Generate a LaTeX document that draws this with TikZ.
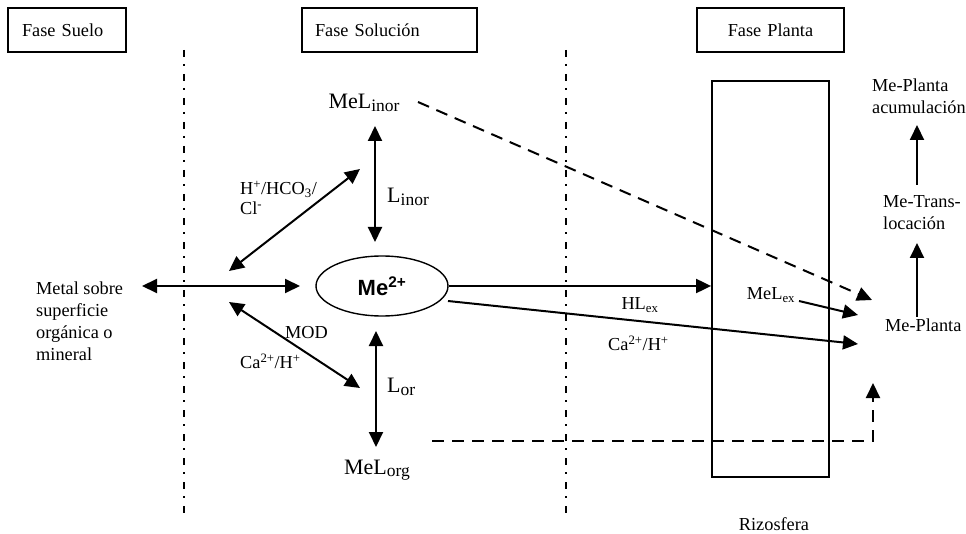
\documentclass[tikz,border=0pt]{standalone}
\usepackage{fontspec}
\setmainfont{Liberation Serif}
\newfontfamily\arialfont{Liberation Sans}
\usetikzlibrary{arrows.meta,shapes.geometric}

% large subscript used with the 22bp labels
\newcommand\bigsub[1]{\raisebox{-2.5bp}{\fontsize{17.5bp}{17.5bp}\selectfont #1}}

\begin{document}
\begin{tikzpicture}[x=1bp,y=-1bp,
  font=\fontsize{18.3bp}{22bp}\selectfont,
  phasebox/.style={draw, line width=1.8bp, minimum height=44bp, inner ysep=0pt, align=left},
  lbl/.style={inner sep=0pt},
  big/.style={font=\fontsize{22bp}{24bp}\selectfont},
  tip/.tip={Triangle[length=15bp,width=14bp]},
  conn/.style={line width=2bp, -tip},
  biconn/.style={line width=2bp, tip-tip},
  dashconn/.style={conn, dash pattern=on 12bp off 8bp},
  boundary/.style={line width=1.4bp, dash pattern=on 7bp off 7bp on 2bp off 8bp},
]
\useasboundingbox (0,0) rectangle (966,534);

% phase headers
\node[phasebox, text width=90bp, inner xsep=14bp] (suelo) at (67,30) {Fase Suelo};
\node[phasebox, text width=149bp, inner xsep=13bp] (solucion) at (389.5,30) {Fase Solución};
\node[phasebox, text width=127bp, inner xsep=10bp, align=center] (planta) at (770.5,30) {Fase Planta};

% phase boundaries
\draw[boundary] (184,50) -- (184,520);
\draw[boundary] (566,50) -- (566,520);

% rhizosphere
\node[draw, line width=1.8bp, minimum width=117bp, minimum height=396bp, inner sep=0pt] (riz) at (770.5,279) {};
\node[lbl] (rizlbl) at (774,524) {Rizosfera};

% free metal ion
\node[draw, ellipse, line width=1.4bp, minimum width=132bp, minimum height=60bp, inner sep=0pt,
      font=\arialfont\bfseries\fontsize{22bp}{24bp}\selectfont] (me) at (382,286) {Me\textsuperscript{2+}};

% species and labels
\node[lbl, big] (melinor) at (364,103) {MeL\bigsub{inor}};
\node[lbl, big] (melorg) at (377,470) {MeL\bigsub{org}};
\node[lbl, big, anchor=west] (linor) at (387,197) {L\bigsub{inor}};
\node[lbl, big, anchor=west] (lor) at (387,387) {L\bigsub{or}};
\node[lbl, anchor=west, align=left] (metal) at (36,321.5) {Metal sobre\\superficie\\orgánica o\\mineral};
\node[lbl, anchor=west, align=left, font=\fontsize{18.3bp}{20bp}\selectfont] (inorg) at (240,198) {H\textsuperscript{+}/HCO\textsubscript{3}/\\Cl\textsuperscript{-}};
\node[lbl, anchor=west] (mod) at (285,333) {MOD};
\node[lbl, anchor=west] (caleft) at (240,361) {Ca\textsuperscript{2+}/H\textsuperscript{+}};
\node[lbl] (hlex) at (640,305) {HL\textsubscript{ex}};
\node[lbl, anchor=west] (caright) at (608,343) {Ca\textsuperscript{2+}/H\textsuperscript{+}};
\node[lbl] (melex) at (771,295) {MeL\textsubscript{ex}};
\node[lbl, anchor=west] (meplanta) at (885,325) {Me-Planta};
\node[lbl, anchor=west, align=left] (metrans) at (883,212.5) {Me-Trans-\\locación};
\node[lbl, anchor=west, align=left] (meacum) at (872,96) {Me-Planta\\acumulación};

% connector ends
\coordinate (surfL) at (142,286);
\coordinate (surfR) at (300,286);
\coordinate (hubUp) at (229,271);
\coordinate (inUp) at (360,169);
\coordinate (hubDn) at (229,302);
\coordinate (orDn) at (360,388);
\coordinate (linorT) at (375,126);
\coordinate (linorB) at (375,242);
\coordinate (lorT) at (376,331);
\coordinate (lorB) at (376,447);
\coordinate (dashA) at (418,102);
\coordinate (dashAend) at (872,300);
\coordinate (meCa) at (448,301);
\coordinate (caEnd) at (858,344);
\coordinate (exStart) at (799,301);
\coordinate (exEnd) at (858,315);
\coordinate (upA) at (917,317);
\coordinate (upAend) at (917,243);
\coordinate (upB) at (917,185);
\coordinate (upBend) at (917,125);
\coordinate (dashB) at (432,441);
\coordinate (dashBend) at (873,383);

% connectors
\draw[biconn] (surfL) -- (surfR);
\draw[biconn] (hubUp) -- (inUp);
\draw[biconn] (hubDn) -- (orDn);
\draw[biconn] (linorT) -- (linorB);
\draw[biconn] (lorT) -- (lorB);
\draw[dashconn] (dashA) -- (dashAend);
\draw[conn] (me.east) -- (me.east -| riz.west);
\draw[conn] (meCa) -- (caEnd);
\draw[conn] (exStart) -- (exEnd);
\draw[conn] (upA) -- (upAend);
\draw[conn] (upB) -- (upBend);
\draw[dashconn] (dashB) -| (dashBend);
\end{tikzpicture}
\end{document}
